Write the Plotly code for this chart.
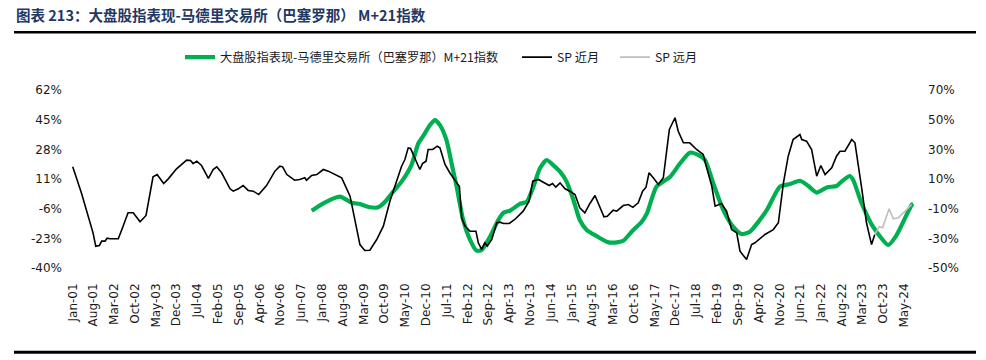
import plotly.graph_objects as go

# ---------------- data ----------------
title_text = "图表 213：大盘股指表现-马德里交易所（巴塞罗那） M+21指数"
name_index = "大盘股指表现-马德里交易所（巴塞罗那）M+21指数"
name_near = "SP 近月"
name_far = "SP 远月"

index_dates = ["2007-09-16", "2008-01-13", "2008-07-01", "2008-10-28", "2009-01-22", "2009-05-04",
               "2009-07-28", "2009-10-07", "2009-12-28", "2010-03-25", "2010-07-04", "2010-09-13",
               "2010-11-01", "2011-01-10", "2011-03-01", "2011-04-22", "2011-06-28", "2011-08-19",
               "2011-10-10", "2011-12-16", "2012-02-25", "2012-05-01", "2012-06-22", "2012-09-16",
               "2012-12-10", "2013-02-01", "2013-04-07", "2013-07-19", "2013-09-28", "2013-12-04",
               "2014-02-10", "2014-04-19", "2014-06-25", "2014-09-04", "2014-11-10", "2015-01-19",
               "2015-03-25", "2015-06-04", "2015-09-13", "2015-12-25", "2016-03-01", "2016-06-13",
               "2016-09-07", "2016-12-19", "2017-02-10", "2017-05-19", "2017-10-07", "2018-01-16",
               "2018-04-25", "2018-07-19", "2018-09-28", "2018-12-22", "2019-04-04", "2019-07-13",
               "2019-10-07", "2020-01-01", "2020-06-22", "2020-11-04", "2021-02-16", "2021-05-28",
               "2021-08-22", "2021-11-16", "2022-02-28", "2022-06-07", "2022-07-28", "2022-10-22",
               "2022-11-25", "2023-02-19", "2023-06-16", "2023-11-19", "2024-02-13", "2024-07-16",
               "2024-08-01"]
index_values = [-7.2, -2.9, 0.9, -2.6, -3.3, -5.2,
                -5.2, -2.0, 3.7, 9.5, 19.0, 31.5,
                35.6, 41.9, 44.8, 41.9, 33.3, 20.0,
                6.6, -12.5, -23.9, -30.1, -29.7, -22.1,
                -12.5, -8.3, -7.2, -3.3, -2.0, 6.6,
                17.1, 21.9, 19.0, 15.2, 9.5, -1.0,
                -12.5, -18.2, -21.7, -24.9, -25.5, -24.4,
                -19.2, -13.5, -8.7, 6.6, 12.3, 20.0,
                26.1, 24.8, 21.9, 8.5, -6.8, -16.3,
                -20.5, -19.2, -6.8, 6.6, 8.1, 10.0,
                7.0, 3.2, 6.2, 7.0, 9.5, 12.7,
                10.4, -2.9, -16.3, -26.8, -21.1, -3.9,
                -3.3]

near_dates = ["2001-01-01", "2001-04-01", "2001-07-28", "2001-08-25", "2001-10-01", "2001-10-25",
              "2001-11-28", "2001-12-19", "2002-01-19", "2002-04-13", "2002-06-01", "2002-07-22",
              "2002-09-13", "2002-11-22", "2003-01-22", "2003-04-04", "2003-05-16", "2003-07-22",
              "2003-09-07", "2003-12-01", "2004-03-13", "2004-04-22", "2004-05-19", "2004-06-25",
              "2004-08-13", "2004-10-22", "2004-12-10", "2005-01-16", "2005-03-07", "2005-06-01",
              "2005-07-04", "2005-08-25", "2005-10-13", "2005-12-04", "2006-01-25", "2006-03-22",
              "2006-06-10", "2006-09-04", "2006-10-25", "2006-11-22", "2007-01-04", "2007-03-25",
              "2007-05-16", "2007-07-07", "2007-07-25", "2007-09-16", "2007-11-07", "2008-01-13",
              "2008-03-04", "2008-07-19", "2008-10-13", "2008-12-04", "2009-01-22", "2009-03-13",
              "2009-05-04", "2009-07-13", "2009-09-19", "2009-11-25", "2010-01-16", "2010-03-25",
              "2010-04-28", "2010-06-01", "2010-06-25", "2010-08-10", "2010-09-28", "2010-10-25",
              "2010-12-01", "2010-12-22", "2011-02-07", "2011-03-25", "2011-04-22", "2011-06-13",
              "2011-08-01", "2011-10-16", "2011-11-07", "2011-12-01", "2012-01-04", "2012-02-25",
              "2012-04-25", "2012-05-19", "2012-06-22", "2012-07-25", "2012-08-19", "2012-10-04",
              "2012-11-25", "2012-12-28", "2013-02-01", "2013-04-01", "2013-05-28", "2013-08-22",
              "2013-10-22", "2013-11-28", "2014-01-25", "2014-03-16", "2014-05-16", "2014-06-19",
              "2014-07-22", "2014-09-04", "2014-10-25", "2014-12-13", "2015-02-04", "2015-03-25",
              "2015-05-16", "2015-07-07", "2015-08-28", "2015-10-10", "2015-11-28", "2016-01-01",
              "2016-03-01", "2016-04-07", "2016-06-13", "2016-08-04", "2016-09-19", "2016-11-13",
              "2016-12-28", "2017-02-01", "2017-03-04", "2017-04-16", "2017-06-07", "2017-07-28",
              "2017-09-28", "2017-11-25", "2017-12-28", "2018-02-19", "2018-04-25", "2018-07-04",
              "2018-09-10", "2018-10-16", "2018-12-07", "2019-01-10", "2019-02-13", "2019-03-16",
              "2019-05-07", "2019-06-28", "2019-08-19", "2019-09-22", "2019-11-28", "2020-01-19",
              "2020-02-22", "2020-06-04", "2020-08-28", "2020-10-19", "2020-12-10", "2021-01-28",
              "2021-03-19", "2021-05-28", "2021-06-16", "2021-08-04", "2021-09-25", "2021-11-16",
              "2021-12-28", "2022-02-10", "2022-04-19", "2022-06-07", "2022-07-13", "2022-09-01",
              "2022-11-10", "2022-12-13", "2023-02-22", "2023-04-10", "2023-06-01", "2023-07-04"]
near_values = [18.2, 0.4, -26.3, -35.3, -34.8, -31.9, -31.9, -29.9, -30.3, -30.3,
               -21.8, -12.8, -12.8, -18.8, -14.6, 11.5, 13.0, 7.0, 10.1, 16.9,
               22.7, 22.5, 20.4, 22.0, 19.1, 10.5, 16.4, 18.2, 14.2, 3.4,
               1.8, 3.4, 5.6, 2.3, 1.8, -0.5, 5.6, 15.3, 18.6, 18.2,
               13.0, 9.2, 9.7, 10.8, 9.2, 12.4, 13.0, 16.4, 15.3, 10.8,
               -1.6, -17.3, -34.2, -38.2, -38.0, -30.8, -21.8, -5.0, 5.1, 18.6,
               23.1, 31.0, 30.6, 23.1, 16.4, 20.4, 22.0, 29.9, 29.9, 32.1,
               31.0, 19.8, 14.2, 7.0, 5.1, -16.2, -21.8, -25.2, -25.2, -33.0,
               -37.5, -33.0, -35.3, -30.8, -19.5, -19.1, -20.0, -20.0, -17.3, -11.7,
               -5.0, 8.5, 9.7, 7.8, 5.6, 7.0, 4.5, 7.4, 3.4, 1.8,
               -0.5, -9.4, -12.8, -6.5, -1.1, -7.9, -15.5, -15.1, -11.0, -11.7,
               -7.9, -7.2, -9.1, -6.1, 1.8, 4.5, 14.2, 10.8, 6.3, 10.8,
               43.4, 51.3, 42.2, 34.4, 34.4, 29.9, 26.5, 17.5, 5.1, -8.3,
               -7.2, -6.5, -11.7, -24.1, -26.3, -38.7, -44.3, -34.2, -33.0, -27.4,
               -24.1, -19.5, 7.4, 25.4, 36.6, 40.0, 36.6, 35.5, 29.9, 11.9,
               19.1, 13.0, 17.5, 25.4, 28.7, 28.7, 36.6, 34.4, 2.9, -19.5,
               -34.2, -27.4]

far_dates = ["2023-07-04", "2023-08-19", "2023-09-22", "2023-11-28", "2024-01-10",
             "2024-03-01", "2024-04-22", "2024-06-10", "2024-07-16"]
far_values = [-27.4, -22.1, -22.8, -10.1, -16.8, -16.2, -12.8, -9.4, -7.2]

tick_dates = ["2001-01-01", "2001-08-01", "2002-03-01", "2002-10-01", "2003-05-01", "2003-12-01",
              "2004-07-01", "2005-02-01", "2005-09-01", "2006-04-01", "2006-11-01", "2007-06-01",
              "2008-01-01", "2008-08-01", "2009-03-01", "2009-10-01", "2010-05-01", "2010-12-01",
              "2011-07-01", "2012-02-01", "2012-09-01", "2013-04-01", "2013-11-01", "2014-06-01",
              "2015-01-01", "2015-08-01", "2016-03-01", "2016-10-01", "2017-05-01", "2017-12-01",
              "2018-07-01", "2019-02-01", "2019-09-01", "2020-04-01", "2020-11-01", "2021-06-01",
              "2022-01-01", "2022-08-01", "2023-03-01", "2023-10-01", "2024-05-01"]
tick_labels = ["Jan-01", "Aug-01", "Mar-02", "Oct-02", "May-03", "Dec-03", "Jul-04", "Feb-05",
               "Sep-05", "Apr-06", "Nov-06", "Jun-07", "Jan-08", "Aug-08", "Mar-09", "Oct-09",
               "May-10", "Dec-10", "Jul-11", "Feb-12", "Sep-12", "Apr-13", "Nov-13", "Jun-14",
               "Jan-15", "Aug-15", "Mar-16", "Oct-16", "May-17", "Dec-17", "Jul-18", "Feb-19",
               "Sep-19", "Apr-20", "Nov-20", "Jun-21", "Jan-22", "Aug-22", "Mar-23", "Oct-23",
               "May-24"]

left_ticks = [-40, -23, -6, 11, 28, 45, 62]
right_ticks = [-50, -30, -10, 10, 30, 50, 70]

# ---------------- figure ----------------
W, H = 986, 360
L, R, T, B = 70, 68, 90, 91.5
plot_w = W - L - R
plot_h = H - T - B

def px_x(px):
    return (px - L) / plot_w

def px_y(py):
    return (H - B - py) / plot_h

tick_font = dict(family="DejaVu Sans", size=12, color="#1a1a1a")
legend_font = dict(family="Noto Sans CJK SC", size=12.2, color="#1a1a1a")

fig = go.Figure()
fig.add_trace(go.Scatter(x=index_dates, y=index_values, name=name_index, mode="lines",
                         line=dict(color="#00B050", width=4.2, shape="spline", smoothing=0.6),
                         yaxis="y", legend="legend"))
fig.add_trace(go.Scatter(x=near_dates, y=near_values, name=name_near, mode="lines",
                         line=dict(color="#000000", width=1.6), yaxis="y2", legend="legend2"))
fig.add_trace(go.Scatter(x=far_dates, y=far_values, name=name_far, mode="lines",
                         line=dict(color="#BFBFBF", width=1.6), yaxis="y2", legend="legend3"))

def legend_at(px_left):
    return dict(orientation="h", x=px_x(px_left), xanchor="left", y=px_y(57), yanchor="middle",
                font=legend_font, bgcolor="rgba(0,0,0,0)", borderwidth=0)

fig.update_layout(
    width=W, height=H,
    margin=dict(l=L, r=R, t=T, b=B, pad=0),
    paper_bgcolor="white", plot_bgcolor="white",
    title=dict(text="<b>" + title_text + "</b>", xref="container", yref="container",
               x=16 / W, y=1 - 15.5 / H, xanchor="left", yanchor="middle",
               font=dict(family="Noto Sans CJK SC", size=14.5, color="#1F3864")),
    showlegend=True,
    legend=legend_at(180),
    legend2=legend_at(517),
    legend3=legend_at(615),
    xaxis=dict(type="date", range=["2000-12-04", "2024-09-19"],
               tickmode="array", tickvals=tick_dates, ticktext=tick_labels,
               tickangle=-90, tickfont=tick_font, showgrid=False, zeroline=False,
               showline=False, ticks="", ticklabelstandoff=12),
    yaxis=dict(range=[-40, 62], tickmode="array", tickvals=left_ticks,
               ticktext=[f"{v}%" for v in left_ticks], tickfont=tick_font,
               showgrid=False, zeroline=False, showline=False, ticks="",
               ticklabelstandoff=7),
    yaxis2=dict(range=[-50, 70], overlaying="y", side="right", tickmode="array",
                tickvals=right_ticks, ticktext=[f"{v}%" for v in right_ticks],
                tickfont=tick_font, showgrid=False, zeroline=False, showline=False,
                ticks="", ticklabelstandoff=9),
    shapes=[
        dict(type="line", xref="paper", yref="paper", x0=px_x(14), x1=px_x(976),
             y0=px_y(32), y1=px_y(32), line=dict(color="#000000", width=2.5)),
        dict(type="line", xref="paper", yref="paper", x0=px_x(14), x1=px_x(976),
             y0=px_y(353), y1=px_y(353), line=dict(color="#000000", width=3)),
    ],
)

fig.write_html("out.html", config={"displayModeBar": False},
               post_script="document.body.style.margin='0';")
